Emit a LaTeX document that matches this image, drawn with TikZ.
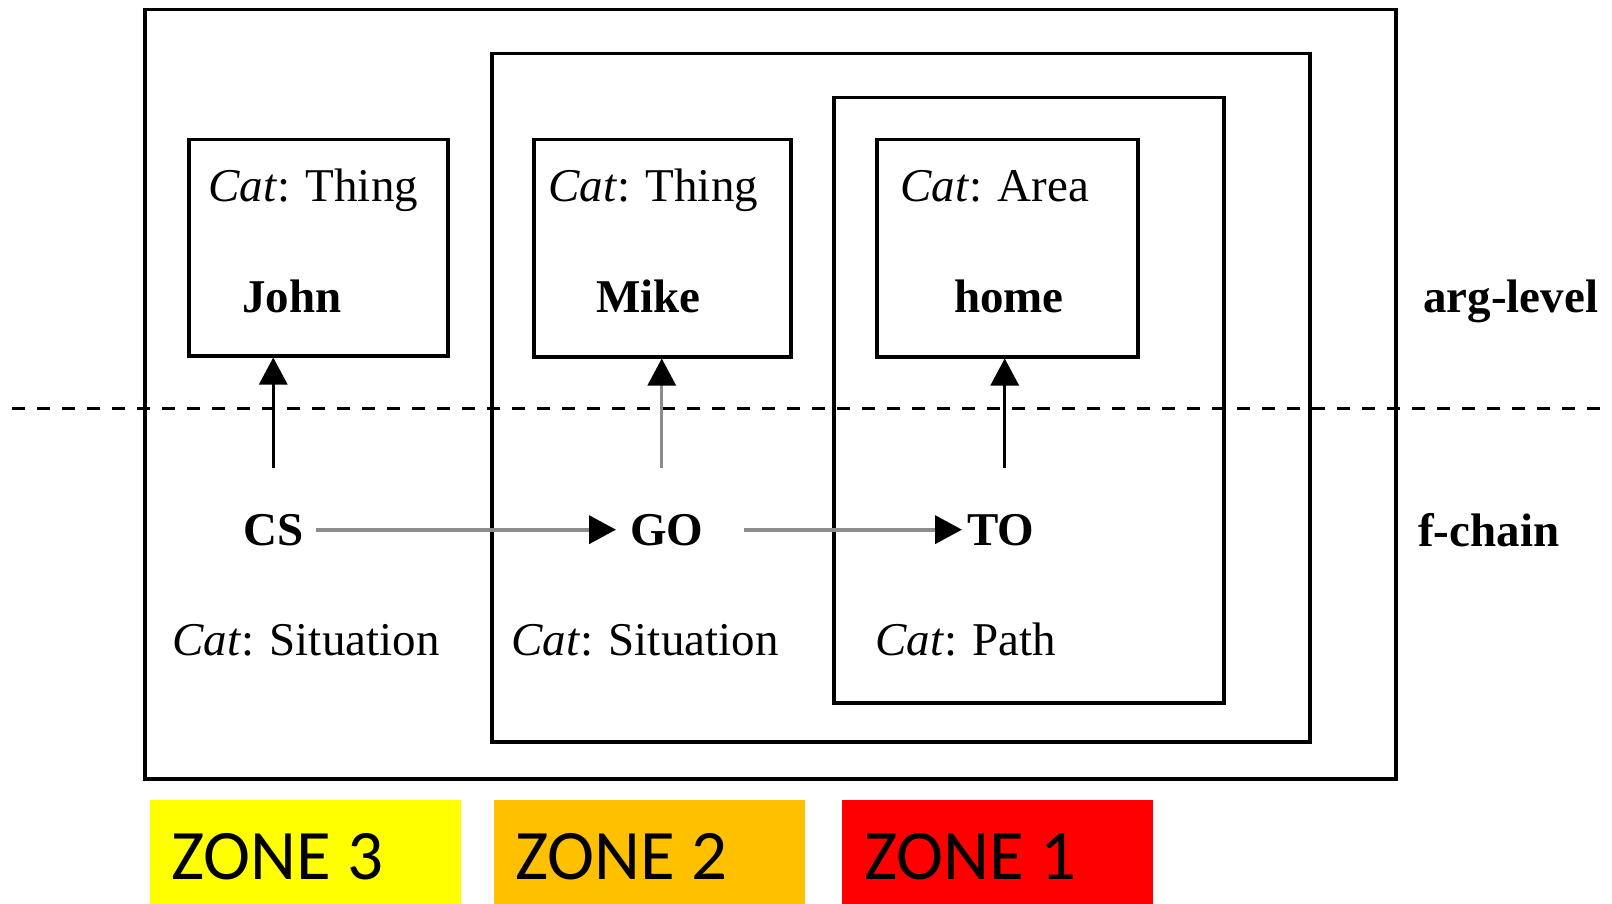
\documentclass[tikz,border=0pt]{standalone}
\usepackage{fontspec}
\setmainfont{Liberation Serif}
\newfontfamily\zonefont{Carlito}
\usetikzlibrary{arrows.meta}
\definecolor{zoneyellow}{RGB}{255,255,0}
\definecolor{zoneorange}{RGB}{255,192,0}
\definecolor{zonered}{RGB}{255,0,0}
\definecolor{linkgray}{RGB}{140,140,140}
\begin{document}
\begin{tikzpicture}[x=1pt,y=-1pt,
  frame/.style={draw, line width=3.5pt, anchor=north west, inner sep=0pt},
  txt/.style={font=\fontsize{47}{56}\selectfont, inner sep=0pt, anchor=base west},
  zonebox/.style={anchor=north west, inner sep=0pt, minimum height=104pt, minimum width=311pt},
  zonetxt/.style={font=\zonefont\fontsize{71}{80}\selectfont, inner sep=0pt, anchor=base west},
  tip/.style={-{Triangle[length=27pt,width=28pt,color=black]}},
  uplink/.style={tip, line width=3pt, shorten <=46pt},
  chainlink/.style={tip, line width=4pt, draw=linkgray}]
\useasboundingbox (0,0) rectangle (1612,904);

% nested zone frames
\node[frame, minimum width=1251pt, minimum height=769pt] (outer) at (143,8) {};
\node[frame, minimum width=818pt, minimum height=688pt] (zonetwo) at (490,52) {};
\node[frame, minimum width=390pt, minimum height=605pt] (zoneone) at (832,96) {};

% argument boxes
\node[frame, minimum width=259pt, minimum height=216pt] (john) at (187,138) {};
\node[frame, minimum width=257pt, minimum height=217pt] (mike) at (532,138) {};
\node[frame, minimum width=261pt, minimum height=217pt] (home) at (875,138) {};

\node[txt] (catjohn) at (208,202) {\textit{Cat}: Thing};
\node[txt] (catmike) at (548,202) {\textit{Cat}: Thing};
\node[txt] (cathome) at (900,202) {\textit{Cat}: Area};
\node[txt, font=\fontsize{47}{56}\selectfont\bfseries] (johnname) at (242,312) {John};
\node[txt, font=\fontsize{47}{56}\selectfont\bfseries] (mikename) at (596,312) {Mike};
\node[txt, font=\fontsize{47}{56}\selectfont\bfseries] (homename) at (954,312) {home};

% level separator
\coordinate (sepL) at (12,408);
\coordinate (sepR) at (1612,408);
\draw[line width=3pt, dash pattern=on 13pt off 12pt] (sepL) -- (sepR);

% function chain
\node[txt, font=\fontsize{47}{56}\selectfont\bfseries] (cs) at (243,545) {CS};
\node[txt, font=\fontsize{47}{56}\selectfont\bfseries] (go) at (630,545) {GO};
\node[txt, font=\fontsize{47}{56}\selectfont\bfseries] (to) at (967,545) {TO};

\node[txt] (catcs) at (172,655) {\textit{Cat}: Situation};
\node[txt] (catgo) at (511,655) {\textit{Cat}: Situation};
\node[txt] (catto) at (875,655) {\textit{Cat}: Path};

\draw[chainlink, shorten <=13pt, shorten >=14pt] (cs.east) -- (go.west);
\draw[chainlink, shorten <=40pt, shorten >=5pt] (go.east) -- (to.west);

\draw[uplink] (cs.north) -- (cs.north |- john.south);
\draw[uplink, draw=linkgray] ([xshift=-5pt]go.north) -- ([xshift=-5pt]go.north |- mike.south);
\draw[uplink] ([xshift=4pt]to.north) -- ([xshift=4pt]to.north |- home.south);

% level labels
\node[txt, font=\fontsize{47}{56}\selectfont\bfseries] (arglevel) at (1423,312) {arg-level};
\node[txt, font=\fontsize{47}{56}\selectfont\bfseries] (fchain) at (1418,546) {f-chain};

% zone legend
\node[zonebox, fill=zoneyellow] (zthree) at (150,800) {};
\node[zonebox, fill=zoneorange] (ztwo) at (494,800) {};
\node[zonebox, fill=zonered] (zone) at (842,800) {};
\node[zonetxt] (zthreetxt) at (171,879) {ZONE 3};
\node[zonetxt] (ztwotxt) at (515,879) {ZONE 2};
\node[zonetxt] (zonetxt) at (864,879) {ZONE 1};
\end{tikzpicture}
\end{document}
